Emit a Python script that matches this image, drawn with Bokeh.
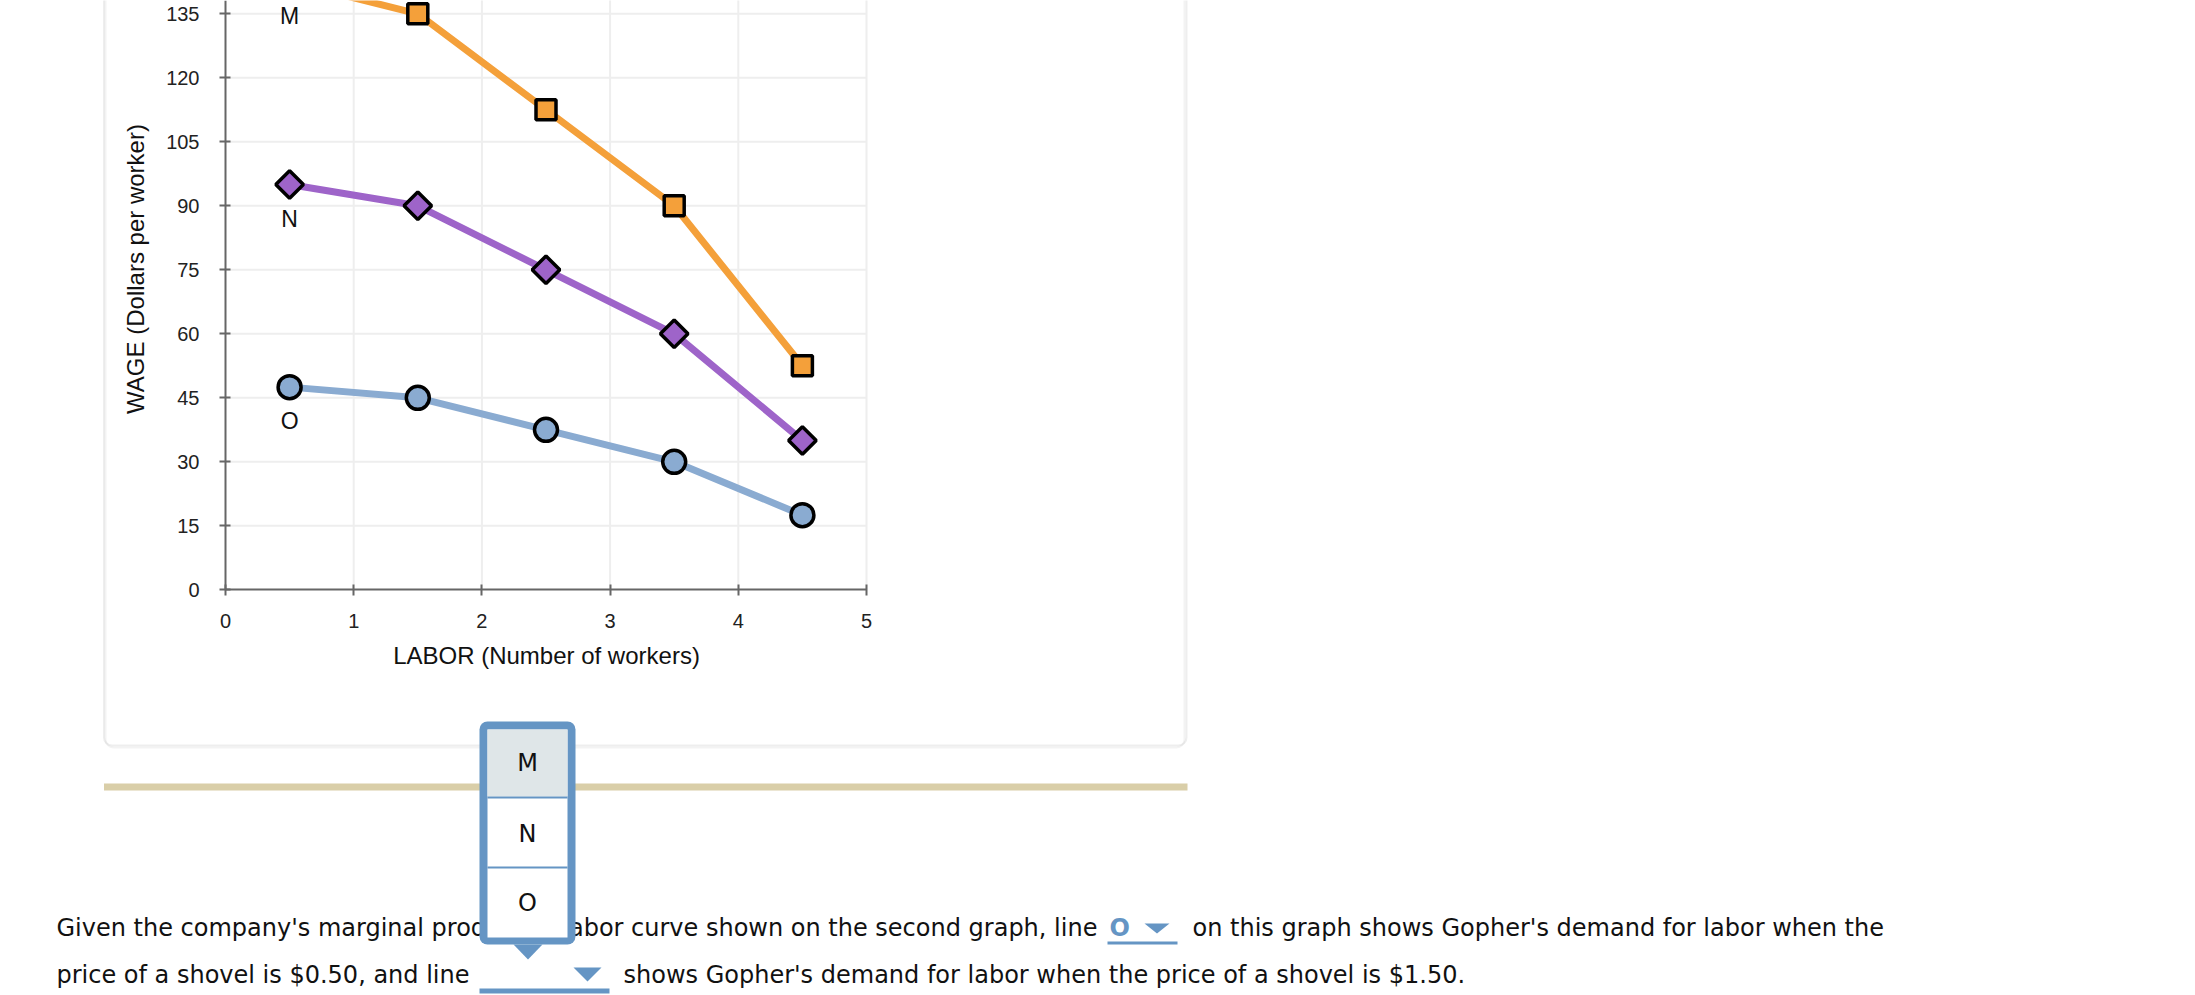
from math import pi

from bokeh.core.properties import value
from bokeh.embed import file_html
from bokeh.models import BoxAnnotation, FixedTicker, Label, PolyAnnotation, Range1d
from bokeh.plotting import figure
from bokeh.resources import INLINE

# demand-for-labor curves (wage)
labor = [0.5, 1.5, 2.5, 3.5, 4.5]
wage_m = [142.5, 135, 112.5, 90, 52.5]
wage_n = [95, 90, 75, 60, 35]
wage_o = [47.5, 45, 37.5, 30, 17.5]
curve_names = ["M", "N", "O"]
x_ticks = [0, 1, 2, 3, 4, 5]
y_ticks = [0, 15, 30, 45, 60, 75, 90, 105, 120, 135, 150]

W, H = 2195, 995
# page position of the graph (the page is scrolled, the top of the graph is cut)
X0, SX = 225, 128.2           # page x of labor=0, px per worker
Y0, SY = 589.3, 576.0 / 135   # page y of wage=0, px per dollar


def dx(px):
    return (px - X0) / SX


def dy(py):
    return (Y0 - py) / SY


p = figure(width=W, height=H, title=None, output_backend="svg", toolbar_location=None,
           x_range=Range1d(dx(0), dx(W)), y_range=Range1d(dy(H), dy(0)),
           min_border=0)
p.outline_line_color = None
p.background_fill_color = "white"
p.border_fill_color = "white"
p.grid.visible = False

for ax in (p.xaxis, p.yaxis):
    ax.fixed_location = 0
    ax.axis_line_color = "#666666"
    ax.axis_line_width = 2
    ax.major_tick_line_color = "#666666"
    ax.major_tick_line_width = 2
    ax.major_tick_in = 5
    ax.major_tick_out = 6
    ax.minor_tick_line_color = None
    ax.major_label_text_font = "Liberation Sans"
    ax.major_label_text_font_size = "20px"
    ax.major_label_text_color = "#222222"
p.xaxis.ticker = FixedTicker(ticks=x_ticks)
p.yaxis.ticker = FixedTicker(ticks=y_ticks)
p.xaxis.bounds = (x_ticks[0], x_ticks[-1])
p.yaxis.bounds = (y_ticks[0], y_ticks[-1])
p.xaxis.major_label_standoff = 18
p.yaxis.major_label_standoff = 20

# light grid inside the graph
p.segment(x0=x_ticks[1:], y0=y_ticks[0], x1=x_ticks[1:], y1=y_ticks[-1],
          line_color="#eeeeee", line_width=2)
p.segment(x0=x_ticks[0], y0=y_ticks[1:], x1=x_ticks[-1], y1=y_ticks[1:],
          line_color="#eeeeee", line_width=2)

# curves
p.line(labor, wage_o, line_color="#8aabd1", line_width=7)
p.line(labor, wage_n, line_color="#9e64c9", line_width=7)
p.line(labor, wage_m, line_color="#f4a03a", line_width=7)
p.scatter(labor, wage_o, marker="circle", size=23, fill_color="#8aabd1",
          line_color="black", line_width=3.5)
p.scatter(labor, wage_n, marker="square", size=19.5, angle=pi / 4, fill_color="#9e64c9",
          line_color="black", line_width=3.5)
p.scatter(labor, wage_m, marker="square", size=20, fill_color="#f4a03a",
          line_color="black", line_width=3.5)

# curve names just below the first point of each curve
first = [wage_m[0], wage_n[0], wage_o[0]]
p.text([labor[0]] * 3, [w - 8 for w in first], text=curve_names,
       text_font=value("Liberation Sans"), text_font_size="23px",
       text_align="center", text_baseline="middle", text_color="#111111")

lab = dict(text_font="Liberation Sans", text_font_size="24px", text_color="#111111",
           text_align="center", text_baseline="middle")
p.add_layout(Label(x=dx(134.5), y=dy(268.5), text="WAGE (Dollars per worker)",
                   angle=pi / 2, **lab))
p.add_layout(Label(x=dx(546), y=dy(655), text="LABOR (Number of workers)", **lab))

# chart panel border (with a soft bottom edge) and separator bar
p.add_layout(BoxAnnotation(left=dx(105), right=dx(1184), top=dy(-40), bottom=dy(747),
                           fill_color=None, line_color="#d6d6d6", line_width=2, border_radius=8))
p.add_layout(BoxAnnotation(left=dx(103.5), right=dx(1186), top=dy(-40), bottom=dy(745),
                           fill_color=None, line_color="#c8c8c8", line_width=2, border_radius=8))
p.add_layout(BoxAnnotation(left=dx(103.5), right=dx(1187), top=dy(783), bottom=dy(790),
                           fill_color="#d9cea8", fill_alpha=1, line_color=None))

blue = "#6595c4"
base1, base2 = 927.5, 974.5
txt = dict(text_font="DejaVu Sans", text_font_size="24px", text_color="#111111",
           text_baseline="alphabetic")
p.add_layout(Label(x=dx(56), y=dy(base1),
                   text="Given the company's marginal product of labor curve shown on the second graph, line", **txt))
p.add_layout(Label(x=dx(1109), y=dy(base1), text=curve_names[2], text_font="DejaVu Sans",
                   text_font_size="24px", text_font_style="bold", text_color=blue,
                   text_baseline="alphabetic"))
p.add_layout(PolyAnnotation(xs=[dx(1144), dx(1169), dx(1156.5)], ys=[dy(923), dy(923), dy(933)],
                            fill_color=blue, fill_alpha=1, line_color=None))
p.add_layout(BoxAnnotation(left=dx(1107), right=dx(1177), top=dy(941), bottom=dy(944),
                           fill_color=blue, fill_alpha=1, line_color=None))
p.add_layout(Label(x=dx(1192), y=dy(base1),
                   text="on this graph shows Gopher's demand for labor when the", **txt))
p.add_layout(Label(x=dx(56), y=dy(base2), text="price of a shovel is $0.50, and line", **txt))
p.add_layout(PolyAnnotation(xs=[dx(573), dx(601), dx(587)], ys=[dy(967), dy(967), dy(981)],
                            fill_color=blue, fill_alpha=1, line_color=None))
p.add_layout(BoxAnnotation(left=dx(479), right=dx(609), top=dy(988), bottom=dy(993),
                           fill_color=blue, fill_alpha=1, line_color=None))
p.add_layout(Label(x=dx(623), y=dy(base2),
                   text="shows Gopher's demand for labor when the price of a shovel is $1.50.", **txt))

# open dropdown list
p.add_layout(BoxAnnotation(left=dx(479), right=dx(575), top=dy(721), bottom=dy(944),
                           fill_color=blue, fill_alpha=1, line_color=None, border_radius=8))
p.add_layout(BoxAnnotation(left=dx(487), right=dx(567), top=dy(729), bottom=dy(937),
                           fill_color="white", fill_alpha=1, line_color=None))
p.add_layout(BoxAnnotation(left=dx(487), right=dx(567), top=dy(729), bottom=dy(796),
                           fill_color="#dfe6e8", fill_alpha=1, line_color=None))
for sep in (796, 866):
    p.add_layout(BoxAnnotation(left=dx(487), right=dx(567), top=dy(sep), bottom=dy(sep + 2),
                               fill_color=blue, fill_alpha=1, line_color=None))
p.add_layout(PolyAnnotation(xs=[dx(513), dx(542), dx(527.5)], ys=[dy(944), dy(944), dy(959)],
                            fill_color=blue, fill_alpha=1, line_color=None))
for name, yc in zip(curve_names, (762, 833, 902)):
    p.add_layout(Label(x=dx(527), y=dy(yc), text=name, text_font="DejaVu Sans",
                       text_font_size="24px", text_color="#111111",
                       text_align="center", text_baseline="middle"))

open("out.html", "w").write(file_html(p, INLINE))
